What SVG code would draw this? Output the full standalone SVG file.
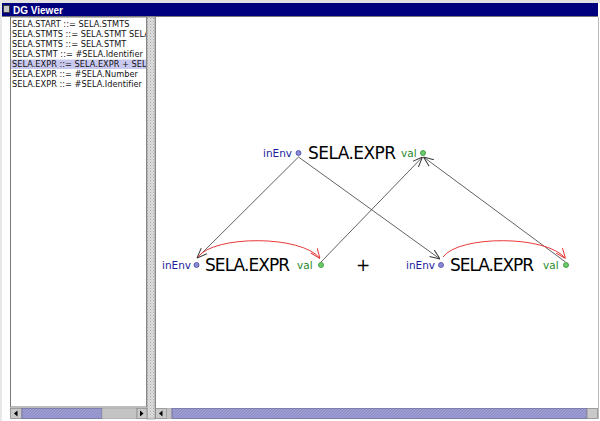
<svg xmlns="http://www.w3.org/2000/svg" width="600" height="421" viewBox="0 0 600 421">
  <style>
    .list { font-family: "DejaVu Sans", "Liberation Sans", sans-serif; font-size: 8.2px; letter-spacing: 0.03px; fill: #111; }
    .title { font-family: "Liberation Sans", "DejaVu Sans", sans-serif; font-size: 10px; font-weight: bold; fill: #fff; }
    .sym { font-family: "DejaVu Sans", sans-serif; font-size: 17px; fill: #000; }
    .inh { font-family: "DejaVu Sans", sans-serif; font-size: 10.5px; fill: #1c1c9c; }
    .syn { font-family: "DejaVu Sans", sans-serif; font-size: 10.5px; fill: #2a8a2a; }
    .plus { font-family: "DejaVu Sans", sans-serif; font-size: 17px; fill: #000; }
    .dotIn { fill: #8a8ad8; stroke: #4a4aa0; stroke-width: 0.8; }
    .dotOut { fill: #6ccc6c; stroke: #2f8f2f; stroke-width: 0.8; }
    .dep { fill: none; stroke: #3a3a3a; stroke-width: 0.8; marker-end: url(#arrBlack); }
    .copy { fill: none; stroke: #e83a3a; stroke-width: 1; marker-end: url(#arrRed); }
    .btn { fill: #c9c9c9; stroke: #8a8a8a; stroke-width: 0.8; }
    .thumb { fill: url(#hatch); stroke: #6c6ca0; stroke-width: 0.8; }
    .track { fill: #c4c4c4; stroke: #9a9a9a; stroke-width: 0.6; }
    .tri { fill: #000; }
  </style>
  <defs>
    <marker id="arrBlack" viewBox="0 0 10 10" refX="10" refY="5" markerWidth="10" markerHeight="10" markerUnits="userSpaceOnUse" orient="auto">
      <path d="M0,1 L10,5 L0,9" fill="none" stroke="#3a3a3a" stroke-width="1"/>
    </marker>
    <marker id="arrRed" viewBox="0 0 10 10" refX="10" refY="5" markerWidth="10" markerHeight="10" markerUnits="userSpaceOnUse" orient="auto">
      <path d="M0,1 L10,5 L0,9" fill="none" stroke="#e83a3a" stroke-width="1"/>
    </marker>
    <pattern id="hatch" width="3" height="3" patternUnits="userSpaceOnUse">
      <rect width="3" height="3" fill="#9d9dd2"/>
      <path d="M0,3 L3,0" stroke="#8585c0" stroke-width="0.8"/>
    </pattern>
    <pattern id="grip" width="3" height="3" patternUnits="userSpaceOnUse">
      <rect width="3" height="3" fill="#dedede"/>
      <rect x="0" y="0" width="1" height="1" fill="#a8a8a8"/>
      <rect x="1.5" y="1.5" width="1" height="1" fill="#b8b8b8"/>
    </pattern>
    <clipPath id="listClip">
      <rect x="11" y="17" width="135" height="390"/>
    </clipPath>
  </defs>

  <!-- window frame -->
  <rect x="0" y="0" width="600" height="421" fill="#ffffff"/>
  <rect x="0" y="0" width="600" height="3" fill="#e2e2e2"/>
  <rect x="0" y="0" width="2" height="421" fill="#e8e8e8"/>

  <!-- title bar -->
  <g id="titlebar">
    <rect x="2" y="3" width="596" height="13" fill="#00007e"/>
    <line x1="2" y1="16.5" x2="598" y2="16.5" stroke="#777" stroke-width="1"/>
    <rect x="3.5" y="5.5" width="6" height="7" fill="#c8c8c8" stroke="#333" stroke-width="0.8"/>
    <text class="title" x="13" y="13.5">DG Viewer</text>
  </g>

  <!-- production list -->
  <g id="production-list">
    <rect x="10.5" y="17" width="136" height="390" fill="#fff" stroke="#7a7a7a" stroke-width="1"/>
    <rect x="11" y="59.5" width="135" height="9.5" fill="#c9c9f0"/>
    <g clip-path="url(#listClip)">
      <text class="list" x="12" y="27">SELA.START ::= SELA.STMTS</text>
      <text class="list" x="12" y="37">SELA.STMTS ::= SELA.STMT SELA</text>
      <text class="list" x="12" y="47">SELA.STMTS ::= SELA.STMT</text>
      <text class="list" x="12" y="57">SELA.STMT ::= #SELA.Identifier</text>
      <text class="list" x="12" y="67">SELA.EXPR ::= SELA.EXPR + SELA</text>
      <text class="list" x="12" y="77">SELA.EXPR ::= #SELA.Number</text>
      <text class="list" x="12" y="87">SELA.EXPR ::= #SELA.Identifier</text>
    </g>
  </g>

  <!-- split divider -->
  <g id="splitter">
    <rect x="147" y="17" width="8" height="402" fill="url(#grip)" stroke="#9a9a9a" stroke-width="0.8"/>
  </g>

  <!-- graph pane border -->
  <line x1="155.5" y1="17" x2="155.5" y2="419" stroke="#8a8a8a" stroke-width="1"/>
  <line x1="598.5" y1="17" x2="598.5" y2="419" stroke="#bdbdbd" stroke-width="1"/>

  <!-- scrollbars -->
  <g id="scroll-left">
    <rect class="btn" x="10.5" y="408.5" width="11.5" height="10"/>
    <path class="tri" d="M14,413.5 L17.5,410.5 L17.5,416.5 Z"/>
    <rect class="thumb" x="22" y="408.5" width="80" height="10"/>
    <rect class="track" x="102" y="408.5" width="35" height="10"/>
    <rect class="btn" x="137" y="408.5" width="10" height="10"/>
    <path class="tri" d="M143.5,413.5 L140,410.5 L140,416.5 Z"/>
  </g>
  <g id="scroll-right">
    <rect class="btn" x="155.5" y="408.5" width="11" height="10"/>
    <path class="tri" d="M159,413.5 L162.5,410.5 L162.5,416.5 Z"/>
    <rect class="track" x="166.5" y="408.5" width="5.5" height="10"/>
    <rect class="thumb" x="172" y="408.5" width="415" height="10"/>
    <rect class="btn" x="587" y="408.5" width="10.5" height="10"/>
  </g>

  <!-- dependency connectors -->
  <g id="connectors">
    <path class="dep" d="M298.5,157 L197,258"/>
    <path class="dep" d="M298.5,157 L440,259"/>
    <path class="dep" d="M321,262 L422.5,157"/>
    <path class="dep" d="M565.5,262 L423.5,157"/>
    <path class="copy" d="M198,257 C214,235 302,235 320,258.5"/>
    <path class="copy" d="M443,257 C459,235 547,235 565.5,258.5"/>
  </g>

  <!-- parent node -->
  <g id="node-expr-parent">
    <text class="inh" x="263" y="157">inEnv</text>
    <circle class="dotIn" cx="298.5" cy="153" r="2.5"/>
    <text class="sym" x="308" y="159" textLength="88">SELA.EXPR</text>
    <text class="syn" x="401" y="157">val</text>
    <circle class="dotOut" cx="423" cy="153" r="2.5"/>
  </g>

  <!-- left child -->
  <g id="node-expr-left">
    <text class="inh" x="162" y="269">inEnv</text>
    <circle class="dotIn" cx="196.5" cy="265" r="2.5"/>
    <text class="sym" x="205" y="270.5" textLength="85">SELA.EXPR</text>
    <text class="syn" x="297" y="269">val</text>
    <circle class="dotOut" cx="321" cy="265" r="2.5"/>
  </g>

  <!-- operator terminal -->
  <g id="node-plus">
    <text class="plus" x="363" y="271" text-anchor="middle">+</text>
  </g>

  <!-- right child -->
  <g id="node-expr-right">
    <text class="inh" x="406" y="269">inEnv</text>
    <circle class="dotIn" cx="441" cy="265" r="2.5"/>
    <text class="sym" x="450" y="270.5" textLength="84">SELA.EXPR</text>
    <text class="syn" x="543" y="269">val</text>
    <circle class="dotOut" cx="566" cy="265" r="2.5"/>
  </g>
</svg>
